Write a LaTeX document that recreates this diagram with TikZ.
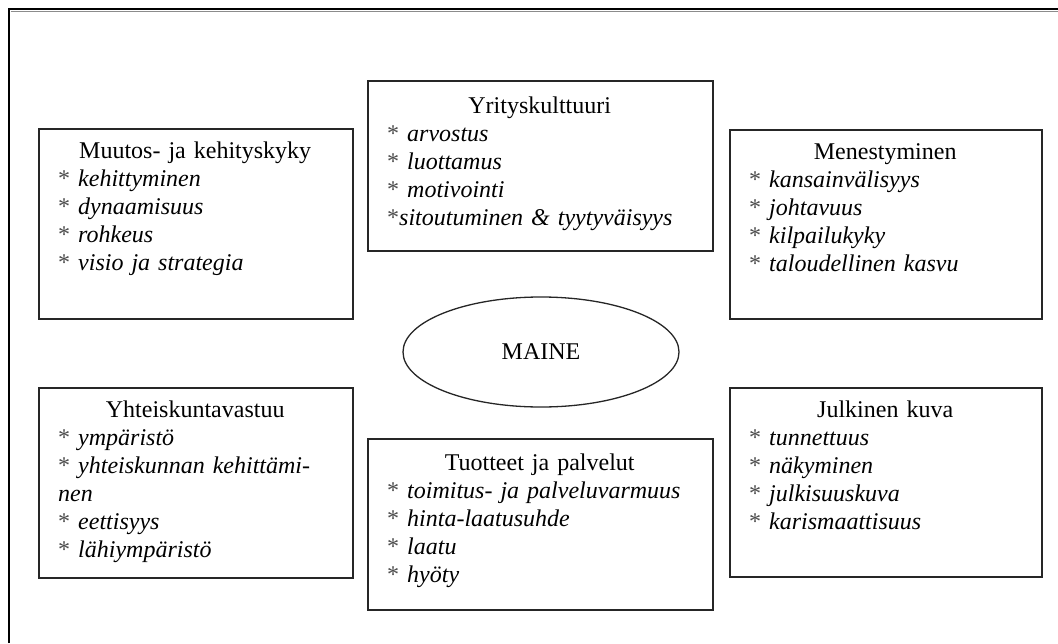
\documentclass[tikz,border=0pt]{standalone}
\usepackage{fontspec}
\setmainfont{Liberation Serif}
\usetikzlibrary{shapes.geometric,calc}
\newcommand{\boxtitle}[1]{\makebox[\linewidth][c]{#1}}
\newcommand{\itm}{\relax{\color{black!70}*}}
\begin{document}
\begin{tikzpicture}[x=1pt,y=-1pt,
  framebox/.style={draw=black!85, line width=1.6pt, rectangle, inner sep=0pt, anchor=north west},
  boxtext/.style={anchor=base west, inner sep=0pt, align=left, font=\fontsize{24}{28}\selectfont},
  oval/.style={draw=black!85, line width=1.3pt, ellipse, inner sep=0pt, minimum width=276pt, minimum height=110pt, font=\fontsize{24}{28}\selectfont}]
\useasboundingbox (0,0) rectangle (1058,643);
% outer frame
\coordinate (ftl) at (9,9);
\coordinate (ftr) at (1058,9);
\coordinate (fbl) at (9,643);
\coordinate (gtl) at (10.5,11.5);
\coordinate (gtr) at (1058,11.5);
\draw[black, line width=2.5pt] (fbl) -- (ftl) -- (ftr);
\draw[black!45, line width=1.4pt] (gtl) -- (gtr);

% boxes
\node[framebox, minimum width=314pt, minimum height=190pt] (muutos) at (38,128) {};
\node[framebox, minimum width=345pt, minimum height=170pt] (yritys) at (367,80) {};
\node[framebox, minimum width=312pt, minimum height=189pt] (menest) at (729,129) {};
\node[framebox, minimum width=314pt, minimum height=190pt] (yhteis) at (38,387) {};
\node[framebox, minimum width=345pt, minimum height=171pt] (tuotteet) at (367,438) {};
\node[framebox, minimum width=312pt, minimum height=189pt] (julk) at (729,387) {};

\node[boxtext, text width=274pt] (muutosT) at ($(muutos.north west)+(20,30)$) {%
\boxtitle{Muutos- ja kehityskyky}\\
\itm{} \textit{kehittyminen}\\
\itm{} \textit{dynaamisuus}\\
\itm{} \textit{rohkeus}\\
\itm{} \textit{visio ja strategia}};

\node[boxtext, text width=305pt] (yritysT) at ($(yritys.north west)+(20,33)$) {%
\boxtitle{Yrityskulttuuri}\\
\itm{} \textit{arvostus}\\
\itm{} \textit{luottamus}\\
\itm{} \textit{motivointi}\\
\itm\textit{sitoutuminen \& tyytyväisyys}};

\node[boxtext, text width=272pt] (menestT) at ($(menest.north west)+(20,30)$) {%
\boxtitle{Menestyminen}\\
\itm{} \textit{kansainvälisyys}\\
\itm{} \textit{johtavuus}\\
\itm{} \textit{kilpailukyky}\\
\itm{} \textit{taloudellinen kasvu}};

\node[boxtext, text width=274pt] (yhteisT) at ($(yhteis.north west)+(20,30)$) {%
\boxtitle{Yhteiskuntavastuu}\\
\itm{} \textit{ympäristö}\\
\itm{} \textit{yhteiskunnan kehittämi-}\\
\textit{nen}\\
\itm{} \textit{eettisyys}\\
\itm{} \textit{lähiympäristö}};

\node[boxtext, text width=305pt] (tuotteetT) at ($(tuotteet.north west)+(20,32)$) {%
\boxtitle{Tuotteet ja palvelut}\\
\itm{} \textit{toimitus- ja palveluvarmuus}\\
\itm{} \textit{hinta-laatusuhde}\\
\itm{} \textit{laatu}\\
\itm{} \textit{hyöty}};

\node[boxtext, text width=272pt] (julkT) at ($(julk.north west)+(20,30)$) {%
\boxtitle{Julkinen kuva}\\
\itm{} \textit{tunnettuus}\\
\itm{} \textit{näkyminen}\\
\itm{} \textit{julkisuuskuva}\\
\itm{} \textit{karismaattisuus}};

\node[oval] (maine) at (541,352) {MAINE};
\end{tikzpicture}
\end{document}
